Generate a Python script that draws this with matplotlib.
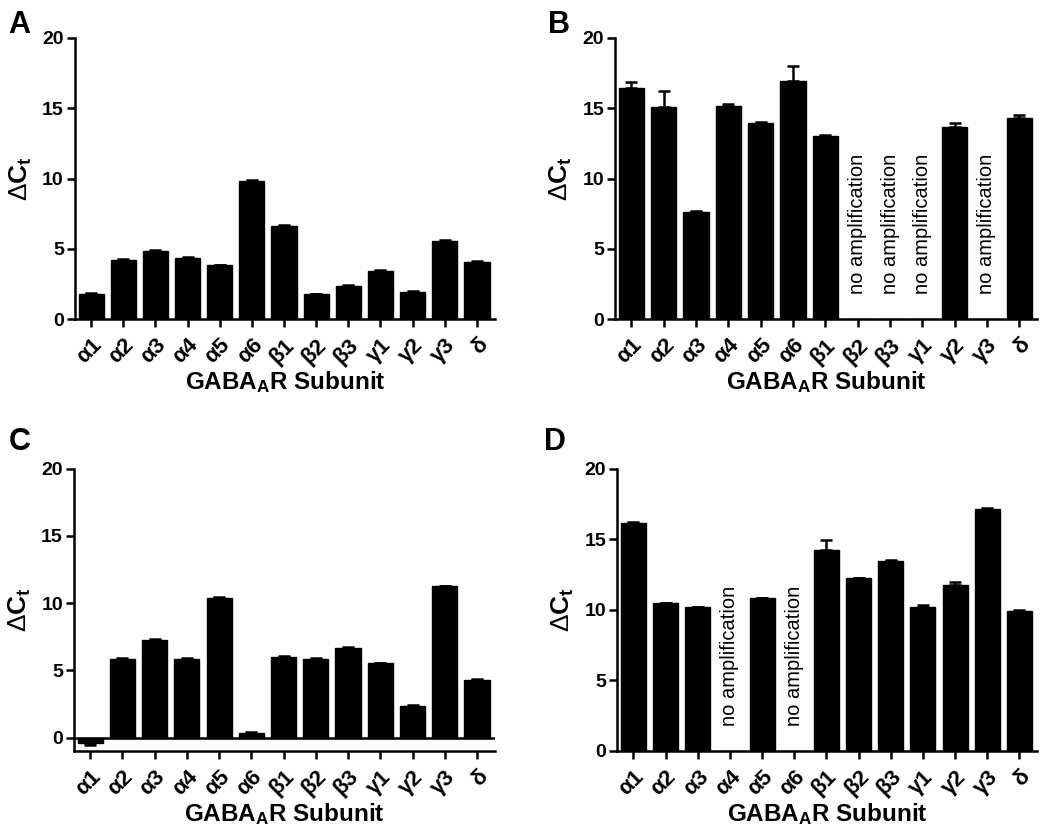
import numpy as np
import matplotlib
matplotlib.use("Agg")
import matplotlib.pyplot as plt

plt.rcParams["font.family"] = ["Liberation Sans", "DejaVu Sans"]
plt.rcParams["mathtext.fontset"] = "custom"
plt.rcParams["mathtext.rm"] = "Liberation Sans"
plt.rcParams["mathtext.bf"] = "Liberation Sans:bold"
plt.rcParams["mathtext.it"] = "Liberation Sans:italic"

subunits = ["α1", "α2", "α3", "α4", "α5", "α6", "β1", "β2", "β3", "γ1", "γ2", "γ3", "δ"]

# None = no amplification
dct_a = [1.78, 4.19, 4.86, 4.36, 3.84, 9.81, 6.61, 1.78, 2.39, 3.44, 1.92, 5.55, 4.05]
err_a = [0.05, 0.08, 0.06, 0.05, 0.03, 0.1, 0.08, 0.04, 0.07, 0.03, 0.06, 0.07, 0.08]

dct_b = [16.4, 15.05, 7.63, 15.14, 13.96, 16.92, 13.03, None, None, None, 13.63, None, 14.27]
err_b = [0.47, 1.2, 0.03, 0.12, 0.05, 1.07, 0.03, 0, 0, 0, 0.28, 0, 0.22]

dct_c = [-0.4, 5.82, 7.26, 5.87, 10.4, 0.35, 5.97, 5.85, 6.69, 5.52, 2.36, 11.24, 4.28]
err_c = [0.12, 0.07, 0.1, 0.04, 0.06, 0.04, 0.07, 0.08, 0.07, 0.03, 0.04, 0.05, 0.09]

dct_d = [16.16, 10.47, 10.17, None, 10.83, None, 14.27, 12.25, 13.48, 10.17, 11.73, 17.16, 9.95]
err_d = [0.04, 0.03, 0.05, 0, 0.04, 0, 0.7, 0.04, 0.03, 0.18, 0.24, 0.04, 0.06]

panels = [
    ("A", dct_a, err_a, [0.0714, 0.620, 0.400, 0.335], 0),
    ("B", dct_b, err_b, [0.586, 0.620, 0.402, 0.335], 0),
    ("C", dct_c, err_c, [0.0705, 0.106, 0.401, 0.336], -1),
    ("D", dct_d, err_d, [0.588, 0.106, 0.400, 0.336], 0),
]
letter_pos = {"A": (0.008, 0.988), "B": (0.522, 0.988), "C": (0.008, 0.492), "D": (0.518, 0.492)}

fig = plt.figure(figsize=(10.5, 8.4), dpi=100)

for letter, vals, errs, rect, ymin in panels:
    ax = fig.add_axes(rect)
    x = np.arange(len(subunits))
    heights = [v if v is not None else 0 for v in vals]
    ax.bar(x, heights, width=0.78, color="black", edgecolor="black", zorder=2)
    for xi, v, e in zip(x, vals, errs):
        if v is None:
            ax.text(xi, 1.8, "no amplification", rotation=90, ha="center", va="bottom",
                    fontsize=14.5)
            continue
        if v >= 0:
            yerr = [[0], [e]]
        else:
            yerr = [[e], [0]]
        ax.errorbar(xi, v, yerr=yerr, fmt="none", ecolor="black", elinewidth=1.8,
                    capsize=4.5, capthick=1.8, zorder=3)
    if ymin < 0:
        ax.axhline(0, color="black", lw=1.8, zorder=1)

    ax.set_xlim(-0.5, 12.56)
    ax.set_ylim(ymin, 20)
    ax.set_yticks([0, 5, 10, 15, 20])
    ax.set_xticks(x)
    ax.set_xticklabels(subunits, rotation=45, ha="right", rotation_mode="anchor",
                       fontsize=16, fontweight="bold")
    for lab in ax.get_yticklabels():
        lab.set_fontweight("bold")
        lab.set_fontsize(14)
    for side in ["top", "right"]:
        ax.spines[side].set_visible(False)
    for side in ["left", "bottom"]:
        ax.spines[side].set_linewidth(1.8)
    ax.tick_params(axis="both", width=1.8, length=6, pad=2)
    ax.tick_params(axis="x", pad=5)

    ax.set_xlabel(r"GABA$_{\mathbf{A}}$R Subunit", fontsize=17.5, fontweight="bold", labelpad=1)
    ax.set_ylabel(r"$\Delta\mathbf{C_t}$", fontsize=19, labelpad=6)

    lx, ly = letter_pos[letter]
    fig.text(lx, ly, letter, fontsize=22, fontweight="bold", va="top", ha="left")

fig.savefig("out.png", dpi=100)
